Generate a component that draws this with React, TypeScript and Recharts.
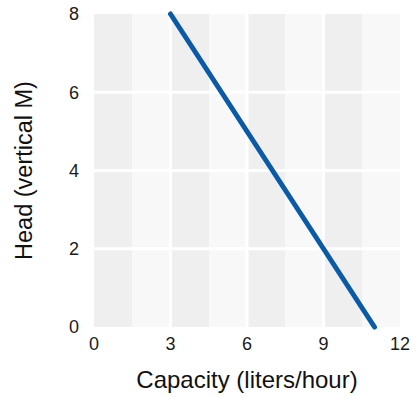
import {
  ComposedChart,
  Line,
  XAxis,
  YAxis,
  CartesianGrid,
} from 'recharts'

// pump curve: head drops as capacity rises
const capacity = [3, 11]
const head = [8, 0]

const xTicks = [0, 3, 6, 9, 12]
const yTicks = [0, 2, 4, 6, 8]
// stripe edges for the shaded background
const bandEdges = [0, 1.5, 3, 4.5, 6, 7.5, 9, 10.5, 12]

const data = capacity.map((c, i) => ({ capacity: c, head: head[i] }))

const FONT = '"Liberation Sans", Arial, sans-serif'

export default function App() {
  return (
    <div style={{ position: 'absolute', left: 0, top: 0, fontFamily: FONT }}>
      <ComposedChart
        width={414}
        height={397}
        data={data}
        margin={{ top: 14, right: 14, bottom: 0, left: 0 }}
      >
        <CartesianGrid
          horizontal={false}
          verticalValues={bandEdges}
          verticalFill={['#efefef', '#f8f8f8']}
          stroke="none"
        />
        <CartesianGrid
          horizontalValues={[2, 4, 6]}
          verticalValues={[3, 6, 9]}
          stroke="#ffffff"
          strokeWidth={3}
          fill="none"
        />
        <XAxis
          dataKey="capacity"
          type="number"
          domain={[0, 12]}
          ticks={xTicks}
          height={70}
          axisLine={false}
          tickLine={false}
          tickSize={0}
          tickMargin={10}
          tick={{ fontSize: 18, fill: '#1a1a1a', fontFamily: FONT }}
          label={{
            value: 'Capacity (liters/hour)',
            position: 'insideBottom',
            offset: 9,
            style: { fontSize: 24, fill: '#111', fontFamily: FONT },
          }}
        />
        <YAxis
          type="number"
          domain={[0, 8]}
          ticks={yTicks}
          width={94}
          axisLine={false}
          tickLine={false}
          tickSize={0}
          tickMargin={15}
          tick={{ fontSize: 18, fill: '#1a1a1a', fontFamily: FONT }}
          label={{
            value: 'Head (vertical M)',
            angle: -90,
            position: 'insideLeft',
            offset: 24,
            style: { textAnchor: 'middle', fontSize: 23.5, fill: '#111', fontFamily: FONT },
          }}
        />
        <Line
          dataKey="head"
          stroke="#0b5aa6"
          strokeWidth={5}
          strokeLinecap="round"
          dot={false}
          isAnimationActive={false}
        />
      </ComposedChart>
    </div>
  )
}
